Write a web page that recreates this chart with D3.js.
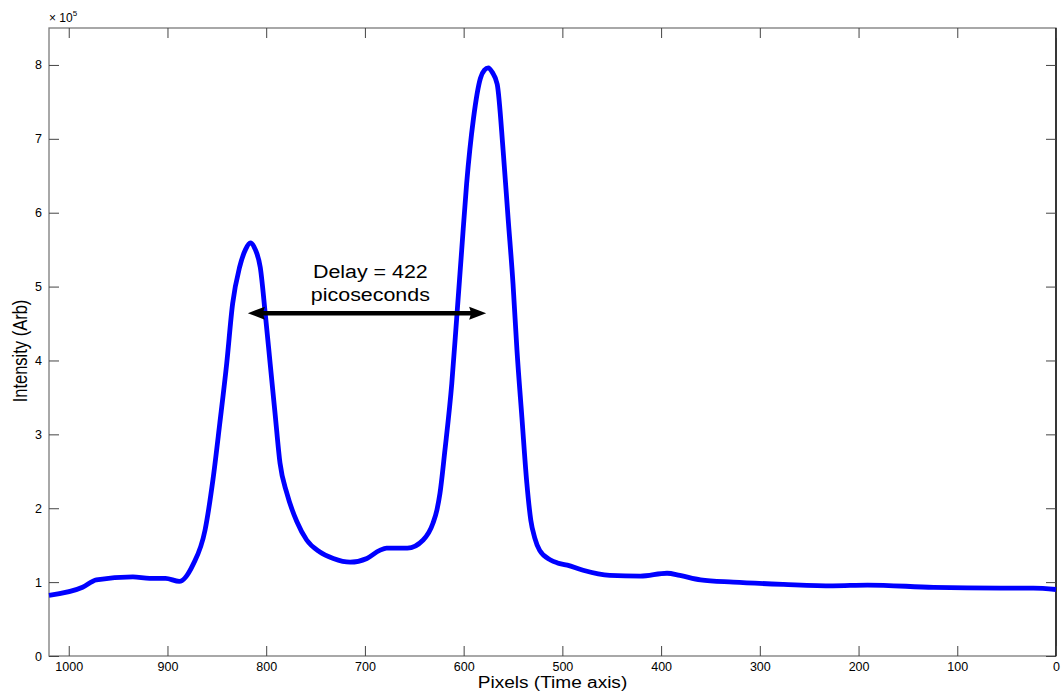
<!DOCTYPE html>
<html>
<head>
<meta charset="utf-8">
<script src="https://cdn.jsdelivr.net/npm/d3@7"></script>
<style>
  body { margin: 0; background: #fff; }
  text { font-family: "Liberation Sans", Arial, sans-serif; fill: #000; }
</style>
</head>
<body>
<div id="chart"></div>
<script>
// pixel position along the time axis (reversed axis)
var pixelPos = [1020, 986, 972, 935, 918, 902, 888, 874, 862, 854, 847, 840, 834, 827, 821, 816, 811, 806, 801, 796, 791, 786, 779, 769, 759, 746, 732, 715, 698, 685, 678, 657, 641, 631, 627, 624, 619, 612, 607, 602, 597, 590, 583, 579, 575, 571, 566, 560, 555, 550, 546, 541, 536, 532, 528, 523, 512, 505, 495, 479, 452, 421, 394, 381, 360, 327, 276, 226, 191, 124, 56, 23, 0];
// intensity in units of 1e5
var intensity = [0.82, 0.93, 1.03, 1.07, 1.05, 1.05, 1.01, 1.24, 1.70, 2.38, 3.15, 3.96, 4.77, 5.26, 5.50, 5.59, 5.50, 5.26, 4.64, 3.96, 3.28, 2.61, 2.20, 1.82, 1.57, 1.41, 1.32, 1.27, 1.32, 1.43, 1.46, 1.46, 1.57, 1.80, 1.98, 2.20, 2.78, 3.69, 4.58, 5.49, 6.39, 7.28, 7.82, 7.93, 7.96, 7.90, 7.74, 6.84, 5.93, 5.04, 4.14, 3.23, 2.34, 1.84, 1.60, 1.43, 1.30, 1.26, 1.23, 1.16, 1.09, 1.08, 1.12, 1.09, 1.03, 1.00, 0.97, 0.95, 0.96, 0.93, 0.92, 0.92, 0.90];

var xTicks = [1000, 900, 800, 700, 600, 500, 400, 300, 200, 100, 0];
var yTicks = [0, 1, 2, 3, 4, 5, 6, 7, 8];

// annotation
var arrowFrom = 818.6, arrowTo = 577.2, arrowLevel = 4.64;
var noteLines = ["Delay = 422", "picoseconds"];
var noteX = 694.5, noteY = [5.11, 4.81];

var W = 1062, H = 698;
var margin = { top: 28, right: 6, bottom: 42, left: 49 };
var width = W - margin.left - margin.right,
    height = H - margin.top - margin.bottom;
var stretch = 1.19;

var svg = d3.select("#chart").append("svg")
  .attr("width", W)
  .attr("height", H);

var g = svg.append("g")
  .attr("transform", `translate(${margin.left},${margin.top})`);

var x = d3.scaleLinear().domain([1020, 0]).range([0, width]);
var y = d3.scaleLinear().domain([0, 8.5]).range([height, 0]);

// box
g.append("rect")
  .attr("width", width).attr("height", height)
  .attr("fill", "none").attr("stroke", "#7a7a7a").attr("stroke-width", 1.3);
g.append("line")
  .attr("x1", width).attr("x2", width).attr("y1", 0).attr("y2", height)
  .attr("stroke", "#111").attr("stroke-width", 1.5);

// x ticks bottom and top (inward)
var xAxisB = g.append("g")
  .attr("transform", `translate(0,${height})`)
  .call(d3.axisBottom(x).tickValues(xTicks).tickFormat(d3.format("d")).tickSizeInner(-10).tickSizeOuter(0).tickPadding(6));
var xAxisT = g.append("g")
  .call(d3.axisTop(x).tickValues(xTicks).tickSizeInner(-10).tickSizeOuter(0).tickFormat(""));
var yAxisL = g.append("g")
  .call(d3.axisLeft(y).tickValues(yTicks).tickSizeInner(-10).tickSizeOuter(0).tickPadding(7));
var yAxisR = g.append("g")
  .attr("transform", `translate(${width},0)`)
  .call(d3.axisRight(y).tickValues(yTicks).tickSizeInner(-10).tickSizeOuter(0).tickFormat(""));

[xAxisB, xAxisT, yAxisL, yAxisR].forEach(function (a) {
  a.select(".domain").remove();
  a.selectAll(".tick line").attr("stroke", "#444");
  a.selectAll("text")
    .style("font-family", '"Liberation Sans", Arial, sans-serif')
    .style("font-size", "12.5px")
    .attr("fill", "#111");
});

// exponent
var expo = g.append("text")
  .attr("x", 0).attr("y", -6)
  .style("font-size", "12px");
expo.append("tspan").text("\u00d7 10");
expo.append("tspan").attr("dy", -6).style("font-size", "8px").text("5");

// line
var pts = pixelPos.map(function (p, i) { return [p, intensity[i]]; });
var line = d3.line()
  .x(function (d) { return x(d[0]); })
  .y(function (d) { return y(d[1]); })
  .curve(d3.curveMonotoneX);
g.append("path")
  .datum(pts)
  .attr("fill", "none")
  .attr("stroke", "#0000ff")
  .attr("stroke-width", 4.8)
  .attr("stroke-linejoin", "round")
  .attr("d", line);

// arrow
var ax1 = x(arrowFrom), ax2 = x(arrowTo), ay = y(arrowLevel);
g.append("line")
  .attr("x1", ax1 + 10).attr("x2", ax2 - 10)
  .attr("y1", ay).attr("y2", ay)
  .attr("stroke", "#000").attr("stroke-width", 4.5);
g.append("path")
  .attr("d", `M${ax1},${ay} L${ax1 + 17},${ay - 6.5} L${ax1 + 15},${ay} L${ax1 + 17},${ay + 6.5} Z`)
  .attr("fill", "#000");
g.append("path")
  .attr("d", `M${ax2},${ay} L${ax2 - 17},${ay - 6.5} L${ax2 - 15},${ay} L${ax2 - 17},${ay + 6.5} Z`)
  .attr("fill", "#000");

noteLines.forEach(function (t, i) {
  g.append("text")
    .attr("transform", `translate(${x(noteX)},${y(noteY[i])}) scale(${stretch},1)`)
    .attr("text-anchor", "middle")
    .style("font-size", "18px")
    .text(t);
});

// axis labels
svg.append("text")
  .attr("transform", `translate(${margin.left + width / 2},688) scale(${stretch},1)`)
  .attr("text-anchor", "middle")
  .style("font-size", "16px")
  .text("Pixels (Time axis)");

svg.append("text")
  .attr("transform", `translate(27,351) scale(${stretch},1) rotate(-90)`)
  .attr("text-anchor", "middle")
  .style("font-size", "16.5px")
  .text("Intensity (Arb)");
</script>
</body>
</html>
